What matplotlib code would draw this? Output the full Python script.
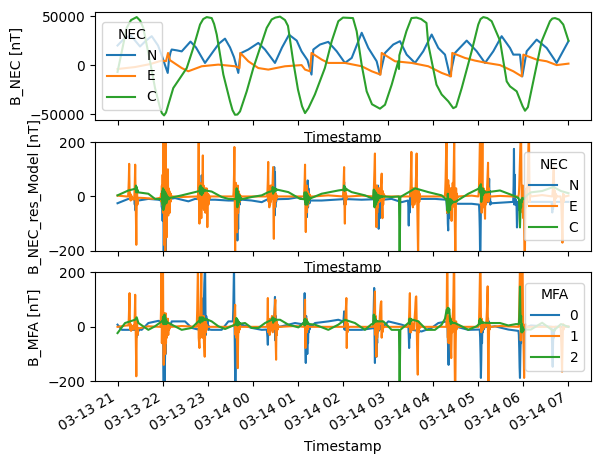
import matplotlib
matplotlib.use("Agg")
import matplotlib.pyplot as plt
import matplotlib.dates as mdates
import numpy as np
import pandas as pd

START = pd.Timestamp("2015-03-13 21:00")
STEP = 0.5  # minutes between samples inside a burst

# ===== Panel 1: B_NEC [nT]  (minutes since start, value) =====
nec_N_t = [0, 10, 18, 29.9, 37.9, 45.5, 53.9, 59.2, 63.2, 66.8, 68.5, 70.5, 72.1, 79.2, 85.4,
           97.1, 104.4, 116.4, 127.5, 135, 143, 149.7, 155, 160.7, 163.6, 174, 187.3, 196.2,
           209.5, 218.9, 228.2, 238.4, 244.9, 252.8, 258.1, 260.5, 269.4, 280.4, 291.6, 302.6,
           311.6, 324.9, 333.7, 344.8, 349.2, 355.9, 366.9, 375.8, 384.7, 395.8, 406.8, 418,
           426.8, 435.7, 442.4, 449, 464.6, 477.9, 489, 500, 511.1, 522.2, 526.6, 535.5, 538.6,
           544.4, 557.7, 571, 584.3, 600]
nec_N_v = [20000, 28000, 30000, 19000, 25000, 29500, 20000, 9000, 0, -8000, 6000, 13000, 15900,
           15000, 14000, 24000, 18000, 2200, 14100, 22000, 27000, 18000, 8000, -8000, 12000,
           15900, 22600, 15900, 2200, 18000, 31000, 25000, 14000, 5000, -9700, 15900, 21000,
           23700, 14100, 2200, 7300, 33000, 17500, 3900, -9700, 12400, 21000, 24400, 10700,
           2200, 14100, 31200, 17500, 10700, -11500, 12400, 25000, 14100, 2200, 14100, 29500,
           17500, 10700, 10700, -11500, 14100, 26000, 17500, 2200, 24400]

nec_E_t = [0, 23.3, 43.2, 58.8, 64.5, 67.2, 69.8, 85.4, 94.2, 112, 134.1, 156.3, 162.3, 163.4,
           174, 187.3, 200.6, 222.8, 244.9, 249.5, 256.1, 258.1, 271.7, 280.4, 302.6, 324.9,
           338.2, 349.9, 351.5, 369.2, 391.4, 413.5, 431.3, 443.7, 445.4, 462.3, 475.6, 491.2,
           508.9, 526.6, 537.8, 540, 557.7, 571, 584.3, 600]
nec_E_v = [-4000, -2000, 1000, 4600, 4000, 12400, 5000, -3000, -6300, -1200, 500, -1200, -3000,
           12400, 3900, -3000, -4600, -1200, 0, -4600, -6300, 12400, 5600, 2200, 2200, -1200,
           -6300, -9700, 12400, 3900, 2200, -1200, -8000, -11500, 12400, 7300, 4600, 2200, 0,
           -6300, -11500, 10700, 5600, 3900, 0, 1500]

nec_C_t = [0, 12.2, 18, 25.5, 30, 34.3, 43.2, 49.9, 56.6, 59, 61.9, 64.5, 67.6, 74.2, 83.2, 92.1,
           100.8, 109.8, 114, 118.7, 125.3, 128.5, 132, 140.8, 149.7, 153, 156.3, 159.5, 163,
           171.9, 180.7, 189.6, 198.5, 205.1, 210, 216.2, 222.8, 226.8, 233.5, 240.1, 245.5,
           249.5, 254, 262.6, 275.9, 285, 293.8, 300, 313.3, 318.2, 324.9, 331.5, 338.6, 349.2,
           355.9, 364.8, 373.6, 374.5, 375, 384.4, 391.1, 397.8, 404, 411.1, 413.5, 424.4,
           431.3, 440.1, 446.7, 450.5, 458, 471.2, 480, 483, 486.7, 492, 497.8, 508.9, 517.8,
           522.2, 531.1, 539, 542.2, 546, 553.2, 564.4, 575.4, 578.5, 582.1, 587.5, 593.1, 600]
nec_C_v = [-7000, 38000, 46000, 49000, 45500, 38000, 3900, -23400, -43800, -49000, -51400,
           -48500, -40400, -23400, -13200, -3000, 17500, 41400, 47000, 49000, 48000, 42000,
           31200, -9700, -37000, -46000, -50700, -50500, -47300, -26800, -3000, 17500, 38000,
           46600, 48500, 49500, 46000, 40000, 5000, -25000, -42000, -49000, -44000, -30000,
           -3000, 24400, 44800, 48500, 48000, 34600, 0, -26800, -40000, -44500, -40500, -20000,
           3900, -4000, 10000, 34600, 48000, 48500, 47000, 43000, 21000, -20000, -30000,
           -37000, -44000, -42500, -23400, 14100, 41400, 47000, 49000, 48000, 44800, 25000,
           -16600, -21700, -26800, -42000, -46600, -43000, -16600, 24400, 44800, 47500, 48000,
           46500, 41400, 25000]

# ===== Panel 2: B_NEC_res_Model [nT] =====
# quiet-time samples (minutes, value) + bursts (start minute, values every STEP minutes)
res_N_t = [0, 14.4, 27.8, 41, 54.4, 58, 72, 76.5, 94.3, 103.2, 109, 119, 129.8, 147.5, 156.5,
           166, 178.5, 191.9, 200.7, 206.5, 214, 227.3, 242.9, 245, 249, 259, 271.6, 289.3,
           300, 307, 324.8, 345, 353, 364.7, 378, 386, 393, 404.6, 422.4, 437, 448, 453.4,
           471.2, 480.5, 498, 508.9, 526, 540, 560, 577, 585, 600]
res_N_v = [-25, -9, -15, -9, -12, -15, -8, -6, -18, -9, -10, -12, -12, -15, -15, -12, -15, -21,
           -9, -10, -10, -9, -2, -9, -10, -15, -15, -12, -10, -10, -12, -10, -12, -9, -21, -15,
           -12, -9, -9, -12, -25, -27, -27, -30, -25, -23, -20, -20, -20, -20, -20, -20]
res_N_bursts = [
    (22.5, [-10, -30, 5, -52, -10, -20, -12]),
    (58.5, [-20, -40, 10, -90, 20, -60, -230, -100, -240, -150, -60, -240, -80, -30, 10, -40,
            -20, -10, -5]),
    (109.5, [-10, 10, -20, 40, -45, 78, 20, -30, 60, -15, 10, -20, 5, -15, -10, -12, -12]),
    (157, [-20, -70, 10, -40, -100, -162, -60, -120, -30, 10, -20, -30, -10, -15, -12, -10]),
    (207, [-10, 20, 40, 108, -70, 90, -40, 10, -20, -10, -10, -10]),
    (249.5, [-10, -30, 10, -40, 20, -76, -20, 59, -40, 30, -20, -5, -25, -10, -15, -15, -15]),
    (300.5, [-10, 20, 53, -30, 30, -20, 0, -15, -10, -10, -10]),
    (345.5, [-10, 20, 40, -30, -119, -60, 20, -80, -20, -30, -10, -15, -12]),
    (386.5, [-15, -40, -107, -20, -60, -15, 10, -20, -15, -12, -12]),
    (437.5, [-12, -30, -60, -20, -100, -125, -40, 10, -80, -30, -50, -20, -35, -25, -30, -25,
             -27, -25, -25]),
    (481, [-30, -60, -120, -230, -180, -40, -60, -20, -30, -25, -30, -28, -25, -28, -25]),
    (493, [-20, -10, 30, 65, -20, 20, -30, -20, -25]),
    (526.5, [-20, 40, 175, -30, 80, -20, -10, -30, -20, -40, -114, -60, -20, -50, -20, -25, -20,
             -22, -20, -20, -20, -20, -20, -20, -20]),
    (577.5, [-20, -40, -59, -20, -45, -20, -30, -20, -22, -20, -20, -20, -20, -20]),
]

res_E_t = [0, 12, 30, 36.6, 49.9, 57, 73, 85.4, 103.2, 106, 126, 147.5, 153.5, 167, 183, 198.5,
           216, 236.2, 247.5, 261, 280.5, 299.5, 308, 324.8, 339.5, 358, 378, 388, 404.5, 422.4,
           435, 454, 471.2, 479.5, 498, 508.9, 525, 533, 550, 565, 578, 596, 600]
res_E_v = [3, 0, -5, -6, -9, -5, 0, -2, 0, 0, 0, 0, 0, 0, 0, 0, 0, 0, 0, 0, 4, 0, 0, 3, 0, 0, 0,
           0, 0, 0, 0, 0, 3, 0, 0, 2, 0, 0, 0, 5, 0, 0, 3]
res_E_bursts = [
    (14, [0, 20, 60, 120, 30, -10, 10, -15, 5, -10, 0, -8, -5, -10, -12, -8, -10, 10, 50, 117,
          20, -80, -178, -40, 20, -30, -10, -5, -5]),
    (57.5, [0, 10, -20, 40, -30, 80, -60, 230, -40, 150, -180, 60, -220, 230, -90, 40, -150, 70,
            -40, 100, -70, 30, -40, 20, -60, 10, -20, 10, -5, 0]),
    (106.5, [0, -10, 60, 210, -40, -100, 30, 50, -60, 20, -80, 40, -40, 60, 151, -20, 40, -50,
             20, -30, 30, -60, 10, -40, 30, -20, -113, -40, 10, -30, 5, -10, 0, -5, 0, 0, 0, 0,
             0]),
    (154, [0, 20, 80, 182, -50, -220, 30, 50, -80, 20, -132, -30, 40, -60, 20, -40, 10, -20, 5,
           -10, 0, -5, 0, 0, 0]),
    (199, [0, 20, 60, 127, -20, 30, -40, 20, -30, 40, -20, 30, -10, 40, 20, 60, 108, -60, -156,
           30, -40, 20, -20, 10, -10, 5, -5, 0, 0, 0, 0, 0, 0, 0]),
    (248, [0, 20, 60, 117, -40, -131, 20, -60, 40, -40, 20, -30, 10, -20, 10, -10, 5, 0, 0, 0,
           0, 0, 0, 0, 0]),
    (300, [0, 20, 60, 108, -30, -100, 20, -30, 10, -10, 0, 0, 0, 0, 0]),
    (340.5, [0, 20, 60, 110, 158, -30, 40, -60, -113, 40, -60, 30, -40, 20, -20, 30, -20, 10,
             -15, 20, 40, 60, 84, -30, -80, 20, -30, 10, -10, 5, 0, 0, 0, 0]),
    (389, [0, 10, 40, 100, 164, 30, -30, 20, -40, 30, -20, 20, -30, 10, -20, 20, 60, 100, 158,
           20, -60, -120, -230, -60, 20, -20, 10, -5, 0, 0, 0]),
    (435.5, [0, 20, 60, 130, 230, 230, -60, 40, -40, 60, -30, 40, -50, 20, -40, 30, -60, 20,
             -90, 30, -40, 50, -30, 60, 120, 230, -40, -150, -230, -80, 30, -20, 10, -5, 0, 0]),
    (480, [0, 10, 40, 100, 180, 230, 80, -30, 40, -60, 100, 220, 20, -40, 30, -30, 20, -50, -82,
           20, -30, 10, -10, 20, 50, 90, 124, -20, 30, -10, 5, 0, 0, 0, 0]),
    (533.5, [0, 10, 40, 90, 150, 200, 230, 230, 50, -40, 30, -60, 40, -80, 20, -120, -200, -230,
             -100, 20, -40, 30, -30, 20, 40, 90, 160, 220, 230, 60, -20, 10, 0]),
    (578.5, [0, 20, 60, 90, 107, 20, -30, 20, -10, 10, -5, 5, 0, 0, 0, 0, 0, 0, 0, 0, 0, 0, 0,
             -10, -30, -80, -130, -170, -60, 10, -20, 5, 0, 0, 0]),
]

res_C_t = [0, 14.4, 23.3, 27.8, 41, 49.9, 58, 70.5, 85.4, 103.2, 117.5, 125.3, 138.6, 147.5,
           157, 165.5, 178.5, 191.9, 200.7, 212.5, 227.3, 242.9, 248, 258.5, 271.6, 293.8,
           305.5, 311.5, 329.2, 339.5, 353.5, 364.7, 374.5, 375.4, 376.3, 391.3, 395.8, 413.5,
           431.3, 437, 449.5, 466.7, 480, 490.5, 508.9, 525, 533, 540.5, 545, 550, 565, 580,
           590, 600]
res_C_v = [4, 22, 28, 15, 10, -9, -10, -5, 4, 16, 22, 18, -2, -9, -10, -10, -2, 4, 16, 25, 16,
           -9, -10, -5, 10, 22, 25, 16, 4, -8, 0, -2, 0, -230, -2, 22, 30, 16, 4, -10, -20, 10,
           28, 15, 22, 5, -5, -10, 5, 15, 20, 35, 20, 12]
res_C_bursts = [
    (24, [30, 40, 15, 35, 20, 25, 15]),
    (59, [-10, 20, -30, 30, -50, 25, -40, 20, -30, 15, -20, 10, -25, 5, -15, 0, -10, -5, -10,
          -5, -8, -5, -5]),
    (109, [20, 35, 10, 40, 15, 35, 5, 30, 10, 30, 15, 25, 20, 25, 20, 22, 22]),
    (157.5, [-10, 10, 30, -20, -40, 20, -30, 10, -20, 5, -15, 0, -10, -5, -8, -10]),
    (206, [20, 35, 10, 30, 15, 30, 20, 30, 20, 28, 22, 26, 25]),
    (248.5, [-10, 15, -20, 10, -30, 15, -25, 10, -30, 5, -20, 0, -15, -5, -10, -5, -8, -5, -5,
             -5]),
    (301, [25, 40, 20, 35, 25, 30, 25, 28, 25]),
    (340, [-8, 10, 25, -10, -40, 20, -20, 15, -30, 10, -20, 5, -15, 0, -10, 5, -5, 0, -5, 0, -3,
           0, -2, 0, -2, 0, 0]),
    (437.5, [-10, -20, -40, -52, 10, -30, -60, -10, -40, -20, -50, -10, -30, -20, -25, -15, -25,
             -20, -20, -20, -20, -20, -20]),
    (481, [28, 35, 15, 40, 30, 45, -20, 20, -10, 30, 5, 25, 10, 20, 15, 18, 15, 15, 15]),
    (533.5, [-5, -10, -30, -80, -114, -60, -20, -40, -10, -20, -5, -10, -8, -10]),
]

# ===== Panel 3: B_MFA [nT] =====
mfa_0_t = [0, 5.6, 22, 29.5, 32.2, 41, 54.4, 57.5, 68.5, 72.1, 89.8, 98.7, 107, 122, 125.3,
           138.6, 147.5, 153, 162, 165.2, 178.5, 191.9, 198, 214.5, 218.5, 236.2, 245, 247.5,
           259.5, 262.7, 280.5, 293.8, 300, 306.5, 324.8, 339.5, 353.5, 360.3, 369.2, 378,
           386.5, 391.5, 404.6, 417.9, 426.8, 438, 448.5, 466.7, 481.5, 496.5, 502.2, 520, 533,
           540.5, 550, 577, 584.5, 600]
mfa_0_v = [8, -11, -11, -10, -11, 14, 22, 20, -10, 20, 20, -4, -10, -10, -11, -11, 20, 20, 0, 8,
           -4, -11, -10, 0, 2, 14, 10, 15, 5, 14, 20, 26, 20, -11, -11, -5, 0, 20, 14, 8, 0,
           -11, -17, -4, 14, 20, 2, -11, -10, 0, 2, -10, -15, -5, 5, 0, 0, 0]
mfa_0_bursts = [
    (22.5, [-11, 0, 20, -10, 30, -40, 10, -20, -10, -30, -10, -15, -10, -10]),
    (58, [20, 60, 167, 40, -50, 30, -150, -230, -100, -200, -150, -60, -100, -20, -40, 10, -20,
          0, -10, -5, -10]),
    (107.5, [-10, -5, -10, 0, -20, 10, -15, 20, 60, 106, -30, 40, -20, 30, 60, 100, 160, 200,
             230, 60, -30, 40, -10, 30, 0, 20, -10, 5, -10]),
    (153.5, [20, 60, 150, 230, 40, -60, -200, -230, -120, -50, 20, -20, 10, -10, 5, 0, 0]),
    (198.5, [-10, -20, -40, -66, -20, 10, -20, 20, -10, 10, -15, 5, -10, 0, -5, 0, -10, 10, -5,
             20, 40, 60, 110, -50, 40, -20, 20, -10, 10, -5, 5, 2]),
    (248, [15, 30, 124, 0, -60, -133, 40, -60, 10, -100, -30, -60, 0, -20, 10, -10, 5, 0, 5, 5,
           5, 5, 5]),
    (300.5, [20, 35, 57, -10, 30, -10, 10, -11, -5, -11, -11, -11]),
    (340, [-5, 20, 80, 143, -30, -133, 20, -60, 20, -110, -30, -60, -10, -20, -5, -15, -10, -5,
           -10, 0, 5, 0, 5, 0, 0, 0, 0]),
    (387, [0, -30, -78, -20, -40, -11, -15, -11, -11]),
    (438.5, [20, 0, -40, -90, -140, -60, 10, -30, -60, -20, 10, -10, 5, 0, 5, 2, 2, 2, 2, 2]),
    (482, [-10, -40, -100, -188, -120, -20, -60, 0, -20, 10, -10, 0, -5, 0, 0, 0, 0, 0, 0, 0,
           10, 20, 32, -10, 20, -10, 5, 0, 0]),
    (533.5, [-15, -30, -80, -150, -188, -100, -40, -60, -10, -20, 0, -5, -5, -5]),
    (577.5, [0, -40, -100, -147, -60, -20, -40, -10, -15, -5, 0, 0, 0, 0]),
]

mfa_1_t = [0, 12, 14, 29.5, 41, 56.5, 72.5, 85.4, 104.5, 120.5, 147.5, 154, 165, 183, 198.5,
           216.5, 236.2, 247.5, 259.5, 300.4, 309.5, 340, 356.5, 386.5, 403.5, 435.5, 453.5,
           480, 497.5, 508.9, 533, 550.5, 575, 589, 597, 600]
mfa_1_v = [0, 5, 5, -5, 2, 0, 0, 3, 0, 0, 0, 5, 0, 0, 0, 0, 3, 0, 0, 0, 0, 0, 0, 0, 0, 0, 0, 0,
           0, 3, 0, 0, 0, 0, 0, 2]
mfa_1_bursts = [
    (14.5, [5, 30, 80, 124, 20, -10, 10, -15, 5, -10, 0, -8, -5, -10, 5, -5, 10, 50, 118, 20,
            -80, -182, -40, 20, -30, -10, -5, -5, -5, -5]),
    (57, [0, 20, 80, 230, -60, 40, 100, 230, -40, -140, 50, -80, 30, -100, 50, -60, 20, -40, 10,
          -20, 30, -30, 10, -10, 5, -5, 0, 0, 0, 0, 0]),
    (105, [0, 10, 60, 150, 230, 100, -40, -60, -78, 20, -40, 40, 120, 230, 0, 30, -40, 20, -30,
           40, -60, -80, -110, -30, 20, -20, 10, -10, 5, 0, 0]),
    (154.5, [5, 10, 30, 60, 81, -30, 20, -40, 10, -60, -100, -152, -40, 10, -20, 10, -10, 5, 0,
             0, 0]),
    (199, [0, 30, 106, -20, 30, -10, 20, -30, 20, -10, 30, 10, -10, 40, 10, -20, 20, -10, 30,
           20, 60, 80, 100, -60, -121, 20, -30, 10, -10, 5, 0, 0, 0, 0]),
    (248, [0, 20, 60, 100, -78, 20, -20, 30, -20, 10, -10, 5, 0, 0, 0, 0, 0, 0, 0, 0, 0, 0, 0]),
    (301, [0, 0, 0, 10, 20, 50, 80, 106, -78, 20, -20, 10, -5, 0, 0, 0, 0]),
    (340.5, [0, 20, 60, 100, 130, -30, 40, -60, -110, 20, -40, 20, -20, 10, -10, 20, 10, 40, 60,
             80, 90, 94, -40, 20, -20, 10, -5, 0, 0, 0, 0, 0]),
    (387, [0, 10, 40, 80, 124, -20, 30, -20, 20, -10, 10, -10, 5, -5, 10, -10, 20, 40, 60, 90,
           110, 112, 20, -60, -120, -176, -40, 20, -20, 10, -5, 0, 0]),
    (436, [0, 0, 0, 0, 60, 230, 230, -40, 20, -60, 30, -40, 40, -60, 20, -80, -115, -40, 30,
           -20, 40, 60, 120, 230, 230, -100, -230, -230, -60, 20, -10, 5, 0, 0, 0]),
    (480.5, [0, 20, 80, 160, 230, 230, 50, -20, 30, -10, 20, -10, 10, -5, 0, 5, 0, 5, 0, 5, 10,
             30, 60, 100, 149, -100, -230, -80, 10, -10, 5, 0, 0, 0]),
    (533.5, [0, 10, 60, 150, 230, 230, -50, 20, 100, 200, 230, 230, 60, -40, -100, -188, -100,
             0, -20, 10, -5, 0, 0, 0, 0, 0, 0, 0, 0, 0, 0, 0, 0, 0]),
    (589.5, [0, -20, -60, -110, -165, -80, -20, 10, -10, 5, 0, 0, 0, 0, 0]),
]

mfa_2_t = [0, 10, 23.3, 25.5, 27.8, 41, 49.9, 58.8, 67.7, 72.1, 85.4, 98.7, 107.6, 118.5, 125.3,
           134.2, 143.1, 156.4, 164.5, 169.7, 178.5, 187.4, 196.3, 205.2, 216.3, 227.3, 240.6,
           262.7, 280.5, 293.8, 302.6, 315.9, 329.2, 338.1, 353.6, 364.7, 374.5, 375.4, 376.3,
           386.9, 400.2, 411.3, 422.4, 431.3, 435.7, 437.9, 449, 457.9, 466.7, 477.8, 497.8,
           508.9, 520, 530, 550, 565, 580, 590, 600]
mfa_2_v = [-23, 14, 26, 35, 14, -11, 2, 20, 15, 8, -11, -4, 20, 28, 20, 2, -8, 8, 12, 14, -4, -4,
           14, 26, 26, 8, -2, 8, -11, 8, 26, 14, -11, 10, 20, -11, -11, -230, -11, 14, 20, -11,
           -11, 8, 30, 63, 14, 2, -11, 2, 14, 14, 5, 10, -10, 15, -15, 10, 0]
mfa_2_bursts = [
    (60, [20, 35, 10, 40, 20, 45, 10, 35, 15, 25, 10, 20, 15]),
    (109, [20, 35, 15, 30, 20, 35, 25, 32, 20, 35, 25, 30, 25, 30, 28, 30, 25, 28, 28]),
    (157, [8, 20, 32, 10, 30, 5, 25, 10, 20, 8, 15, 10, 14, 12, 12]),
    (206, [26, 35, 15, 32, 20, 30, 22, 28, 24, 26, 25, 26, 26, 26, 26]),
    (248, [15, 26, 5, 30, 10, 28, 15, 25, 10, 20, 12, 15, 10, 12, 10, 10, 10]),
    (340, [10, 25, 45, 15, 40, 20, 30, 20, 25, 20, 22, 20, 20, 20, 20, 20, 20]),
    (388, [14, 30, 10, 30, 20, 28, 22, 26, 25, 26, 26]),
    (438.5, [63, 50, 70, 55, 69, 60, 65, 40, 20, 30, 10, 20, 15, 18, 14, 15, 14, 14]),
    (481, [10, 25, 10, 30, 15, 25, 15, 20, 15, 18, 15, 15, 15, 15, 15]),
    (534, [10, 30, 80, 148, 60, 20, 40, -20, 10, -20, 0, -15, -10]),
]


def series(t, v, bursts=()):
    tt = [np.asarray(t, dtype=float)]
    vv = [np.asarray(v, dtype=float)]
    for start, vals in bursts:
        tt.append(start + STEP * np.arange(len(vals)))
        vv.append(np.asarray(vals, dtype=float))
    tt = np.concatenate(tt)
    vv = np.concatenate(vv)
    order = np.argsort(tt, kind="stable")
    return START + pd.to_timedelta(tt[order], unit="min"), vv[order]


W, H, DPI = 6.0, 4.63, 100
fig = plt.figure(figsize=(W, H), dpi=DPI)
left, width, height = 0.1583, 0.8267, 0.2348
ax1 = fig.add_axes([left, 0.7400, width, height])
ax2 = fig.add_axes([left, 0.4583, width, height], sharex=ax1)
ax3 = fig.add_axes([left, 0.1767, width, height], sharex=ax1)

c = plt.rcParams["axes.prop_cycle"].by_key()["color"]

ax1.plot(*series(nec_N_t, nec_N_v), color=c[0], label="N")
ax1.plot(*series(nec_E_t, nec_E_v), color=c[1], label="E")
ax1.plot(*series(nec_C_t, nec_C_v), color=c[2], label="C")
ax1.set_ylabel("B_NEC [nT]")
ax1.legend(title="NEC", loc="center left")

ax2.plot(*series(res_N_t, res_N_v, res_N_bursts), color=c[0], label="N")
ax2.plot(*series(res_E_t, res_E_v, res_E_bursts), color=c[1], label="E")
ax2.plot(*series(res_C_t, res_C_v, res_C_bursts), color=c[2], label="C")
ax2.set_ylim(-200, 200)
ax2.set_ylabel("B_NEC_res_Model [nT]")
ax2.legend(title="NEC", loc="center right")

ax3.plot(*series(mfa_0_t, mfa_0_v, mfa_0_bursts), color=c[0], label="0")
ax3.plot(*series(mfa_1_t, mfa_1_v, mfa_1_bursts), color=c[1], label="1")
ax3.plot(*series(mfa_2_t, mfa_2_v, mfa_2_bursts), color=c[2], label="2")
ax3.set_ylim(-200, 200)
ax3.set_ylabel("B_MFA [nT]")
ax3.legend(title="MFA", loc="center right")

ax1.set_yticks([-50000, 0, 50000])
for ax in (ax2, ax3):
    ax.set_yticks([-200, 0, 200])

for ax in (ax1, ax2, ax3):
    ax.set_xlabel("Timestamp")
    ax.xaxis.set_major_locator(mdates.HourLocator(interval=1))
    ax.xaxis.set_major_formatter(mdates.DateFormatter("%m-%d %H"))

for ax in (ax1, ax2):
    ax.tick_params(axis="x", labelbottom=False)
for lbl in ax3.get_xticklabels():
    lbl.set_rotation(30)
    lbl.set_ha("right")

fig.savefig("out.png", dpi=DPI)
